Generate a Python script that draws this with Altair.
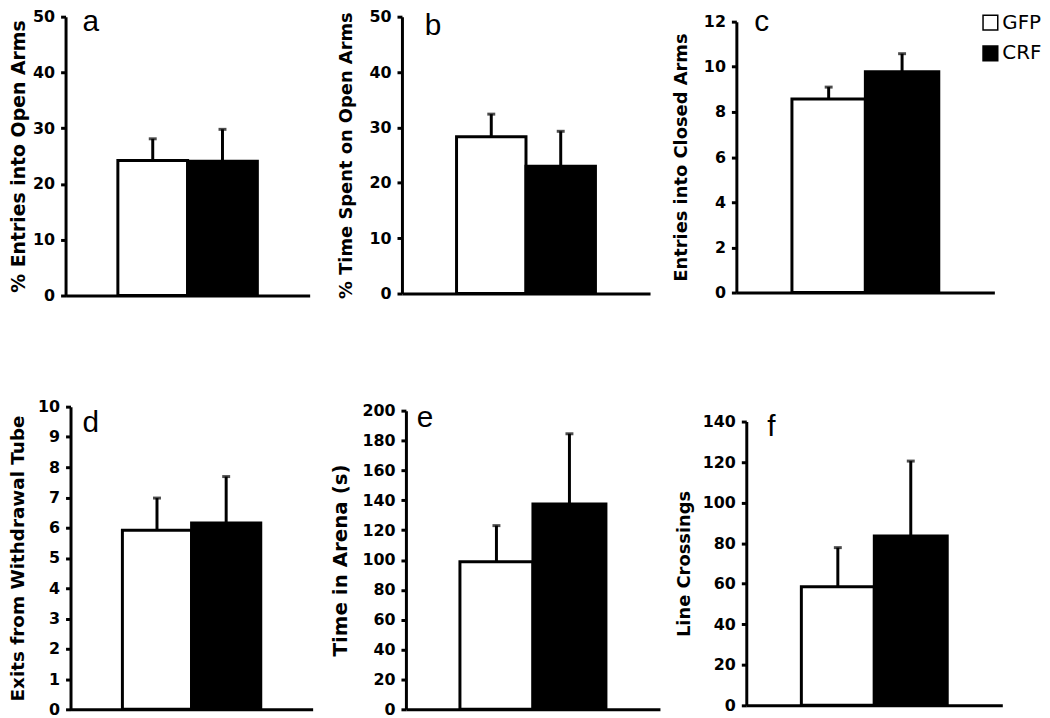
import altair as alt
import pandas as pd

# ---------------- data ----------------
GROUPS = ["GFP", "CRF"]
LETTERS = ["a", "b", "c", "d", "e", "f"]
Y_TITLES = ["% Entries into Open Arms", "% Time Spent on Open Arms",
            "Entries into Closed Arms", "Exits from Withdrawal Tube",
            "Time in Arena (s)", "Line Crossings"]
GFP_MEAN = [24.2, 28.3, 8.57, 5.92, 98.8, 58.5]
CRF_MEAN = [24.1, 23.0, 9.78, 6.16, 137.5, 83.5]
GFP_SEM = [3.9, 4.1, 0.53, 1.06, 24.2, 19.3]
CRF_SEM = [5.7, 6.3, 0.80, 1.53, 47.0, 37.0]
Y_MAX = [50, 50, 12, 10, 200, 140]
Y_STEP = [10, 10, 2, 1, 20, 20]

# ---------------- layout / style per panel ----------------
# column widths: 260, 272, 272 ; column spacing 70 ; row spacing 112
LAYOUT = [
    dict(w=260, h=281, yr=None, xr=[0, 246], off=0, pad=0.75, tx=-47, tfs=19, lx=17, ly=14),
    dict(w=272, h=279, yr=None, xr=[9, 259], off=-9, pad=0.786, tx=-56, tfs=18, lx=32, ly=18),
    dict(w=272, h=278, yr=[278, 5], xr=[4, 264], off=-4, pad=0.757, tx=-55, tfs=18, lx=22, ly=14),
    dict(w=260, h=305, yr=None, xr=[5, 249], off=-5, pad=0.75, tx=-53, tfs=18.5, lx=17, ly=26),
    dict(w=272, h=305, yr=[305, 4], xr=[13, 269], off=-13, pad=0.74, tx=-66, tfs=20, lx=24, ly=20),
    dict(w=272, h=301, yr=[301, 15], xr=[14, 272], off=-14, pad=0.755, tx=-62, tfs=18, lx=35, ly=30),
]

FONT = "DejaVu Sans"


def panel(i):
    L = LAYOUT[i]
    df = pd.DataFrame({
        "group": GROUPS,
        "mean": [GFP_MEAN[i], CRF_MEAN[i]],
        "top": [GFP_MEAN[i] + GFP_SEM[i], CRF_MEAN[i] + CRF_SEM[i]],
    })
    yscale_kw = dict(domain=[0, Y_MAX[i]], nice=False, zero=True)
    if L["yr"] is not None:
        yscale_kw["range"] = L["yr"]
    ticks = list(range(0, Y_MAX[i] + 1, Y_STEP[i]))
    xscale = alt.Scale(range=L["xr"], paddingInner=0, paddingOuter=L["pad"])
    xaxis = alt.Axis(title=None, labels=False, ticks=False, domainWidth=3,
                     domainColor="black")
    yscale = alt.Scale(**yscale_kw)
    yaxis = alt.Axis(title=Y_TITLES[i], values=ticks, tickCount=len(ticks), offset=L["off"],
                     titleX=L["tx"], titleBaseline="middle", titleAngle=-90,
                     titleFont=FONT, titleFontSize=L["tfs"], titleFontWeight="bold",
                     titleColor="black",
                     labelFont=FONT, labelFontSize=16, labelFontWeight="bold",
                     labelColor="black", labelPadding=6, labelOverlap=False,
                     tickSize=5, tickWidth=3, tickColor="black",
                     domainWidth=3, domainColor="black", grid=False)

    def X():
        return alt.X("group:N", sort=GROUPS, scale=xscale, axis=xaxis)

    def Y(field):
        return alt.Y(field, scale=yscale, axis=yaxis, title=Y_TITLES[i])

    base = alt.Chart(df)
    bars = base.mark_bar(stroke="black", strokeWidth=3).encode(
        x=X(), y=Y("mean:Q"),
        fill=alt.Fill("group:N", sort=GROUPS,
                      scale=alt.Scale(domain=GROUPS, range=["white", "black"]),
                      legend=alt.Legend(title=None, orient="none", legendX=922, legendY=-4,
                                        symbolType="square", symbolSize=220,
                                        symbolStrokeColor="black", symbolStrokeWidth=1.5,
                                        labelFont=FONT, labelFontSize=20,
                                        labelColor="black", labelOffset=2,
                                        rowPadding=9)),
    )
    stem = base.mark_rule(strokeWidth=3, color="black").encode(
        x=X(), y=Y("mean:Q"), y2="top:Q")
    cap = base.mark_tick(thickness=3, size=8, color="black").encode(
        x=X(), y=Y("top:Q"))
    letter = alt.Chart(pd.DataFrame({"letter": [LETTERS[i]]})).mark_text(
        font="Liberation Sans", fontSize=30, align="left", baseline="alphabetic",
        color="black").encode(text="letter:N", x=alt.value(L["lx"]), y=alt.value(L["ly"]))
    return alt.layer(bars, stem, cap, letter).properties(width=L["w"], height=L["h"])


panels = [panel(i) for i in range(6)]
chart = alt.concat(*panels, columns=3, spacing=alt.RowColnumber(row=112, column=70),
                   bounds="flush").properties(
    autosize=alt.AutoSizeParams(type="none"),
    padding={"left": 58, "top": 6, "right": 984, "bottom": 704},
    background="white",
).configure_view(stroke=None)

chart.save("out.html", embed_options={"renderer": "svg", "actions": False})
